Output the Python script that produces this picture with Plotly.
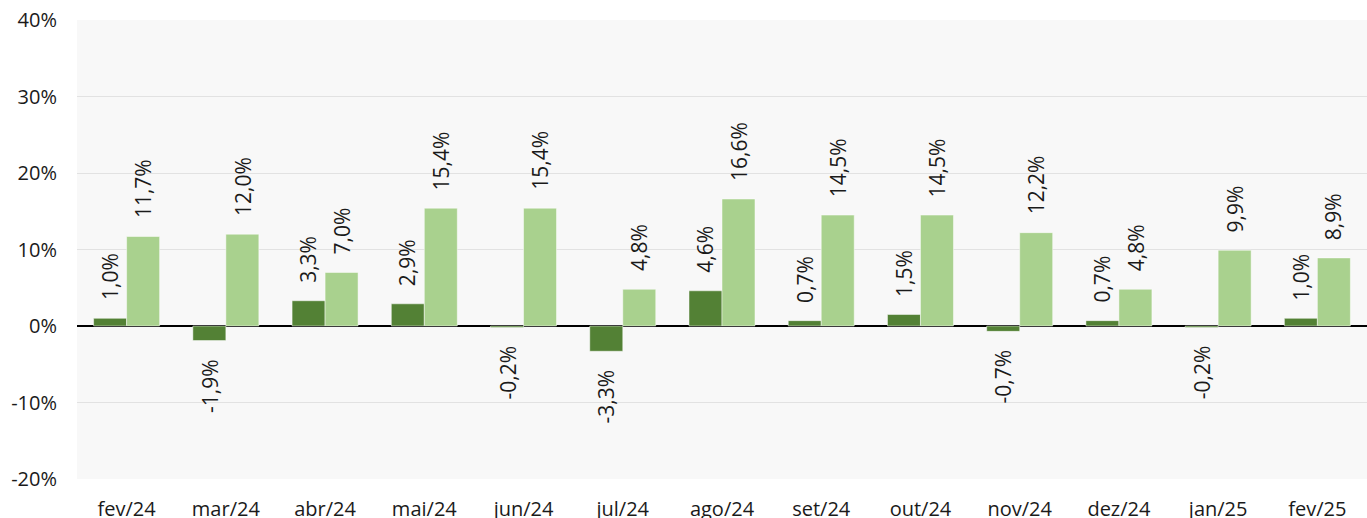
import plotly.graph_objects as go

categories = ["fev/24", "mar/24", "abr/24", "mai/24", "jun/24", "jul/24", "ago/24",
              "set/24", "out/24", "nov/24", "dez/24", "jan/25", "fev/25"]
serie_mensal = [1.0, -1.9, 3.3, 2.9, -0.2, -3.3, 4.6, 0.7, 1.5, -0.7, 0.7, -0.2, 1.0]
serie_anual = [11.7, 12.0, 7.0, 15.4, 15.4, 4.8, 16.6, 14.5, 14.5, 12.2, 4.8, 9.9, 8.9]
y_ticks = [-20, -10, 0, 10, 20, 30, 40]

DARK = "#538135"
LIGHT = "#A9D18E"
FONT = "Open Sans"


def fmt(v):
    return f"{v:.1f}".replace(".", ",") + "%"


fig = go.Figure()
fig.add_trace(go.Bar(x=categories, y=serie_mensal,
                     marker=dict(color=DARK, line=dict(color="rgba(255,255,255,0.6)", width=0.8)),
                     name="mensal"))
fig.add_trace(go.Bar(x=categories, y=serie_anual,
                     marker=dict(color=LIGHT, line=dict(color="rgba(255,255,255,0.6)", width=0.8)),
                     name="anual"))

annotations = []
for series, shift in ((serie_mensal, -16.5), (serie_anual, 16.5)):
    for c, v in zip(categories, series):
        pos = v >= 0
        annotations.append(dict(
            x=c, y=v, xref="x", yref="y", text=fmt(v), showarrow=False,
            textangle=-90, xshift=shift, yshift=16 if pos else -16,
            yanchor="bottom" if pos else "top", xanchor="center",
            font=dict(family=FONT, size=21, color="#1a1a1a"),
        ))

fig.update_layout(
    width=1367, height=518,
    margin=dict(l=77, r=0, t=20, b=39, autoexpand=False),
    paper_bgcolor="white", plot_bgcolor="#f8f8f8",
    barmode="group", bargap=0.335, bargroupgap=0,
    showlegend=False,
    font=dict(family=FONT, size=20, color="#1a1a1a"),
    annotations=annotations,
    xaxis=dict(automargin=False, showgrid=False, ticks="outside", ticklen=12,
               tickcolor="rgba(0,0,0,0)", tickfont=dict(size=20)),
    yaxis=dict(automargin=False, range=[-20, 40], tickvals=y_ticks,
               ticktext=[f"{t}%" for t in y_ticks], showgrid=True,
               gridcolor="#e2e2e2", gridwidth=1, zeroline=True,
               zerolinecolor="#000000", zerolinewidth=1.5,
               ticks="outside", ticklen=15, tickcolor="rgba(0,0,0,0)",
               tickfont=dict(size=20)),
)

fig.write_html("out.html", config={"displayModeBar": False},
               post_script="document.body.style.margin='0';")
